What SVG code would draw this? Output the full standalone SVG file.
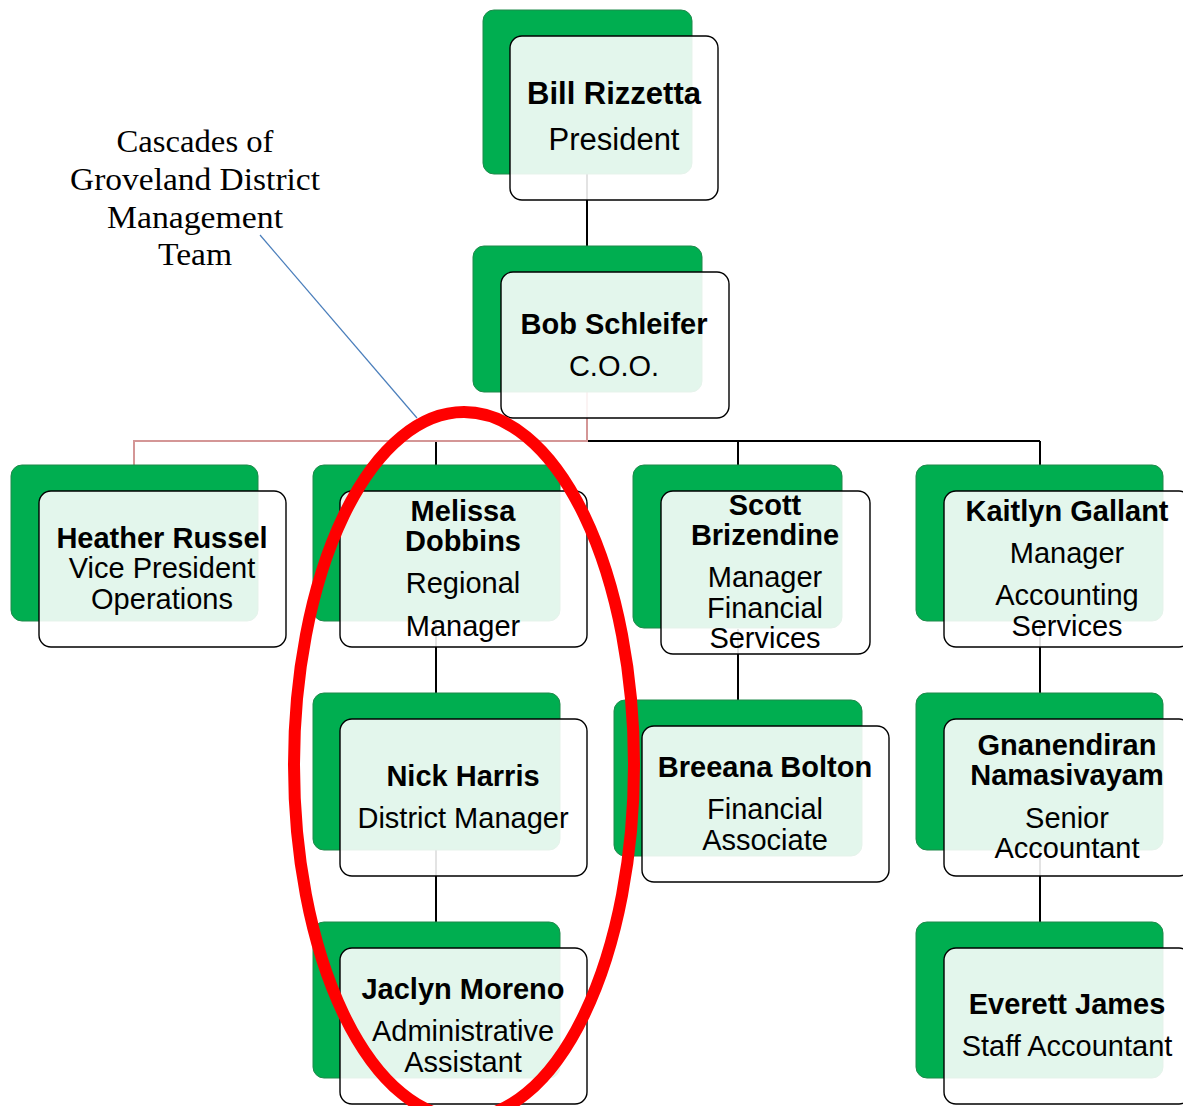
<svg xmlns="http://www.w3.org/2000/svg" width="1183" height="1106" viewBox="0 0 1183 1106">
<style>
.bg{fill:#00ae50;stroke:#1e8a4a;stroke-width:1}
.card{fill:#ffffff;fill-opacity:0.89;stroke:#000;stroke-width:1.4}
.t{font-family:"Liberation Sans",Arial,sans-serif;font-size:29px;fill:#000;text-anchor:middle}
.b{font-weight:bold}
.con{stroke:#000;stroke-width:2;fill:none}
.pink{stroke:#d49696;stroke-width:2;fill:none}
.note{font-family:"Liberation Serif","Times New Roman",serif;font-size:31px;fill:#000;text-anchor:middle}
</style>
<rect width="1183" height="1106" fill="#fff"/>
<g id="connectors">
<line class="con" x1="587" y1="174" x2="587" y2="246"/>
<line class="con" x1="436" y1="441" x2="1040" y2="441"/>
<line class="con" x1="436" y1="441" x2="436" y2="465"/>
<line class="con" x1="738" y1="441" x2="738" y2="465"/>
<line class="con" x1="1040" y1="441" x2="1040" y2="465"/>
<polyline class="pink" points="587,392 587,441 134,441 134,465"/>
<line class="con" x1="436" y1="621" x2="436" y2="693"/>
<line class="con" x1="436" y1="850" x2="436" y2="922"/>
<line class="con" x1="738" y1="629" x2="738" y2="700"/>
<line class="con" x1="1040" y1="621" x2="1040" y2="693"/>
<line class="con" x1="1040" y1="850" x2="1040" y2="922"/>
</g>
<g id="bill">
<rect class="bg" x="483" y="10" width="209" height="164" rx="11"/>
<rect class="card" x="510" y="36" width="208" height="164" rx="12"/>
<text class="t b" x="614" y="104" style="font-size:31px">Bill Rizzetta</text>
<text class="t" x="614" y="150" style="font-size:31px">President</text>
</g>
<g id="bob">
<rect class="bg" x="473" y="246" width="229" height="146" rx="11"/>
<rect class="card" x="501" y="272" width="228" height="146" rx="12"/>
<text class="t b" x="614" y="334">Bob Schleifer</text>
<text class="t" x="614" y="376">C.O.O.</text>
</g>
<g id="heather">
<rect class="bg" x="11" y="465" width="247" height="156" rx="11"/>
<rect class="card" x="39" y="491" width="247" height="156" rx="12"/>
<text class="t b" x="162" y="548">Heather Russel</text>
<text class="t" x="162" y="578">Vice President</text>
<text class="t" x="162" y="609">Operations</text>
</g>
<g id="melissa">
<rect class="bg" x="313" y="465" width="247" height="156" rx="11"/>
<rect class="card" x="340" y="491" width="247" height="156" rx="12"/>
<text class="t b" x="463" y="521">Melissa</text>
<text class="t b" x="463" y="551">Dobbins</text>
<text class="t" x="463" y="593">Regional</text>
<text class="t" x="463" y="636">Manager</text>
</g>
<g id="scott">
<rect class="bg" x="633" y="465" width="209" height="163" rx="11"/>
<rect class="card" x="661" y="491" width="209" height="163" rx="12"/>
<text class="t b" x="765" y="515">Scott</text>
<text class="t b" x="765" y="545">Brizendine</text>
<text class="t" x="765" y="587">Manager</text>
<text class="t" x="765" y="618">Financial</text>
<text class="t" x="765" y="648">Services</text>
</g>
<g id="kaitlyn">
<rect class="bg" x="916" y="465" width="247" height="156" rx="11"/>
<rect class="card" x="944" y="491" width="247" height="156" rx="12"/>
<text class="t b" x="1067" y="521">Kaitlyn Gallant</text>
<text class="t" x="1067" y="563">Manager</text>
<text class="t" x="1067" y="605">Accounting</text>
<text class="t" x="1067" y="636">Services</text>
</g>
<g id="nick">
<rect class="bg" x="313" y="693" width="247" height="157" rx="11"/>
<rect class="card" x="340" y="719" width="247" height="157" rx="12"/>
<text class="t b" x="463" y="786">Nick Harris</text>
<text class="t" x="463" y="828">District Manager</text>
</g>
<g id="breeana">
<rect class="bg" x="614" y="700" width="248" height="156" rx="11"/>
<rect class="card" x="642" y="726" width="247" height="156" rx="12"/>
<text class="t b" x="765" y="777">Breeana Bolton</text>
<text class="t" x="765" y="819">Financial</text>
<text class="t" x="765" y="850">Associate</text>
</g>
<g id="gnanendiran">
<rect class="bg" x="916" y="693" width="247" height="157" rx="11"/>
<rect class="card" x="944" y="719" width="247" height="157" rx="12"/>
<text class="t b" x="1067" y="755">Gnanendiran</text>
<text class="t b" x="1067" y="785">Namasivayam</text>
<text class="t" x="1067" y="828">Senior</text>
<text class="t" x="1067" y="858">Accountant</text>
</g>
<g id="jaclyn">
<rect class="bg" x="313" y="922" width="247" height="156" rx="11"/>
<rect class="card" x="340" y="948" width="247" height="156" rx="12"/>
<text class="t b" x="463" y="999">Jaclyn Moreno</text>
<text class="t" x="463" y="1041">Administrative</text>
<text class="t" x="463" y="1072">Assistant</text>
</g>
<g id="everett">
<rect class="bg" x="916" y="922" width="247" height="156" rx="11"/>
<rect class="card" x="944" y="948" width="247" height="156" rx="12"/>
<text class="t b" x="1067" y="1014">Everett James</text>
<text class="t" x="1067" y="1056">Staff Accountant</text>
</g>
<g id="callout">
<text class="note" x="195" y="152" textLength="157" lengthAdjust="spacingAndGlyphs">Cascades of</text>
<text class="note" x="195" y="190" textLength="250" lengthAdjust="spacingAndGlyphs">Groveland District</text>
<text class="note" x="195" y="228" textLength="176" lengthAdjust="spacingAndGlyphs">Management</text>
<text class="note" x="195" y="265" textLength="74" lengthAdjust="spacingAndGlyphs">Team</text>
<line x1="260" y1="235" x2="417" y2="418" stroke="#4a7ebb" stroke-width="1.2"/>
</g>
<ellipse id="highlight" cx="464" cy="765" rx="170" ry="353" fill="none" stroke="#ff0000" stroke-width="12"/>
</svg>
